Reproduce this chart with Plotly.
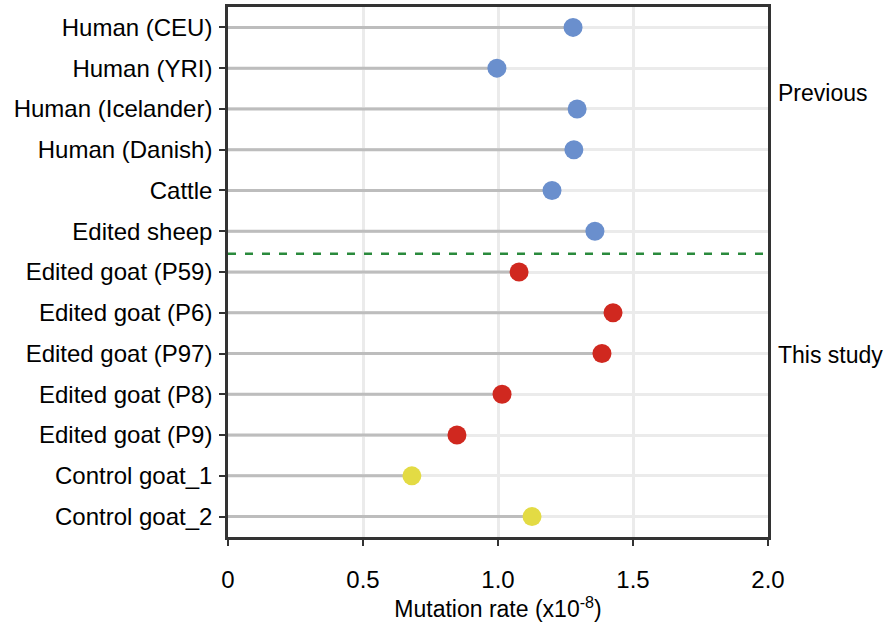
import plotly.graph_objects as go

categories = ["Human (CEU)", "Human (YRI)", "Human (Icelander)", "Human (Danish)",
              "Cattle", "Edited sheep", "Edited goat (P59)", "Edited goat (P6)",
              "Edited goat (P97)", "Edited goat (P8)", "Edited goat (P9)",
              "Control goat_1", "Control goat_2"]
rates = [1.278, 0.996, 1.293, 1.281, 1.200, 1.359, 1.078, 1.426, 1.385, 1.015, 0.848, 0.681, 1.126]
groups = ["prev"] * 6 + ["edit"] * 5 + ["ctrl"] * 2
group_colors = {"prev": "#6a8fcd", "edit": "#d0281f", "ctrl": "#e3db44"}
x_tickvals = [0, 0.5, 1.0, 1.5, 2.0]
x_ticktext = ["0", "0.5", "1.0", "1.5", "2.0"]
section_labels = ["Previous", "This study"]

FONT = "Liberation Sans, Arial, sans-serif"
FS = 24

fig = go.Figure()

# stems
sx, sy = [], []
for c, v in zip(categories, rates):
    sx += [0, v, None]
    sy += [c, c, None]
fig.add_trace(go.Scatter(x=sx, y=sy, mode="lines",
                         line=dict(color="#bdbdbd", width=3),
                         hoverinfo="skip", showlegend=False))

# dots
fig.add_trace(go.Scatter(x=rates, y=categories, mode="markers",
                         marker=dict(size=19, color=[group_colors[g] for g in groups],
                                     line=dict(width=0)),
                         showlegend=False))

# separator
fig.add_shape(type="line", xref="paper", x0=0, x1=1, yref="y", y0=5.55, y1=5.55,
              line=dict(color="#2a8a3c", width=2.5, dash="8px,9px"))

fig.add_annotation(text=section_labels[0], xref="paper", x=1.0, xshift=8, xanchor="left",
                   yref="y", y=1.6, showarrow=False, font=dict(size=FS - 1, color="black", family=FONT))
fig.add_annotation(text=section_labels[1], xref="paper", x=1.0, xshift=8, xanchor="left",
                   yref="y", y=8.03, showarrow=False, font=dict(size=FS - 1, color="black", family=FONT))

fig.update_layout(
    width=886, height=624,
    margin=dict(l=228, r=118, t=7, b=87),
    plot_bgcolor="white", paper_bgcolor="white",
    font=dict(family=FONT, size=FS, color="black"),
    xaxis=dict(range=[0, 2.0], tickvals=x_tickvals, ticktext=x_ticktext,
               showgrid=True, gridcolor="#ebebeb", gridwidth=2.5,
               showline=True, linecolor="#333333", linewidth=2.5, mirror=True,
               ticks="outside", ticklen=6, tickwidth=2, tickcolor="#333333",
               ticklabelstandoff=13, zeroline=False, automargin=False,
               title=dict(text="Mutation rate (x10<sup>-8</sup>)", standoff=0,
                          font=dict(size=FS - 1))),
    yaxis=dict(categoryorder="array", categoryarray=categories, autorange=False,
               range=[12.5, -0.5], automargin=False,
               showgrid=True, gridcolor="#ebebeb", gridwidth=2.5,
               showline=True, linecolor="#333333", linewidth=2.5, mirror=True,
               ticks="outside", ticklen=6, tickwidth=2, tickcolor="#333333",
               ticklabelstandoff=2, zeroline=False),
)

fig.write_html("out.html", config={"displayModeBar": False},
               post_script="document.body.style.margin='0';document.body.style.overflow='hidden';")
